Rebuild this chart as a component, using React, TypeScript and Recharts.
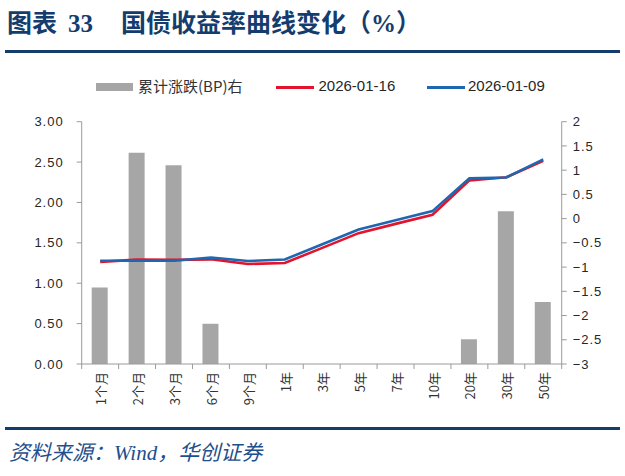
import React from 'react';
import { ComposedChart, Bar, Line, XAxis, YAxis } from 'recharts';

const categories = ['1个月', '2个月', '3个月', '6个月', '9个月', '1年', '3年', '5年', '7年', '10年', '20年', '30年', '50年'];
const yield20260116 = [1.264, 1.292, 1.289, 1.296, 1.238, 1.25, 1.435, 1.62, 1.735, 1.848, 2.273, 2.312, 2.516];
const yield20260109 = [1.278, 1.278, 1.278, 1.318, 1.275, 1.294, 1.48, 1.665, 1.78, 1.893, 2.298, 2.31, 2.533];
const bpChange = [-1.42, 1.36, 1.1, -2.17, -3.7, -4.4, -4.5, -4.5, -4.5, -4.5, -2.49, 0.15, -1.72];
const leftTicks = [0, 0.5, 1, 1.5, 2, 2.5, 3];
const rightTicks = [-3, -2.5, -2, -1.5, -1, -0.5, 0, 0.5, 1, 1.5, 2];
const RIGHT_MIN = -3;
const RIGHT_MAX = 2;

const legendLabels = ['累计涨跌(BP)右', '2026-01-16', '2026-01-09'];

const W = 625;
const H = 476;
const M = { top: 121.7, right: 13.3, bottom: 52, left: 21.7 };
const YL_W = 60;
const YR_W = 50;
const XA_H = 60;
const PLOT_W = W - M.left - M.right - YL_W - YR_W;
const BAND = PLOT_W / categories.length;

const data = categories.map((c, i) => ({
  name: c,
  y0116: yield20260116[i],
  y0109: yield20260109[i],
  bpRange: bpChange[i] > RIGHT_MIN ? [RIGHT_MIN, bpChange[i]] : null,
}));

const RED = '#E2142D';
const BLUE = '#1F67B1';
const GREY = '#A6A6A6';
const AXIS = '#9A9A9A';
const NAVY = '#143D6E';
const TICK_FONT = '"Liberation Sans", Arial, sans-serif';
const CJK_SANS = '"Noto Sans CJK SC", "Liberation Sans", sans-serif';
const TITLE_FONT = '"Liberation Serif", "Noto Sans CJK SC", serif';

const XTick = (props: any) => {
  const { x, y, payload, index } = props;
  const isLast = index === categories.length - 1;
  return (
    <g>
      <line x1={x - BAND / 2} x2={x - BAND / 2} y1={y} y2={y + 5} stroke={AXIS} strokeWidth={1} />
      {isLast && <line x1={x + BAND / 2} x2={x + BAND / 2} y1={y} y2={y + 5} stroke={AXIS} strokeWidth={1} />}
      <text
        transform={`translate(${x + 1.5},${y + 8}) rotate(-90)`}
        textAnchor="end"
        dy="0.35em"
        fontSize={13}
        fill="#333"
        fontFamily={CJK_SANS}
      >
        {payload.value}
      </text>
    </g>
  );
};

const fmtRight = (v: number) => String(v).replace('-', '−');

const titleStyle: React.CSSProperties = {
  position: 'absolute',
  top: 10,
  fontSize: 25,
  lineHeight: '28px',
  fontWeight: 'bold',
  color: NAVY,
  fontFamily: TITLE_FONT,
  whiteSpace: 'nowrap',
};

export default function App() {
  return (
    <div style={{ position: 'absolute', left: 0, top: 0, width: W, height: H, background: '#fff', overflow: 'hidden' }}>
      <div style={{ ...titleStyle, left: 7 }}>图表</div>
      <div style={{ ...titleStyle, left: 68 }}>33</div>
      <div style={{ ...titleStyle, left: 121 }}>国债收益率曲线变化（%）</div>
      <div style={{ position: 'absolute', left: 5, top: 50, width: 615, height: 3, background: NAVY }} />

      <div style={{ position: 'absolute', left: 0, top: 0 }}>
        <ComposedChart width={W} height={H} data={data} margin={M}>
          <XAxis
            dataKey="name"
            height={XA_H}
            interval={0}
            tickLine={false}
            tickSize={0}
            tickMargin={0}
            stroke={AXIS}
            tick={<XTick />}
          />
          <YAxis
            yAxisId="left"
            orientation="left"
            width={YL_W}
            domain={[0, 3]}
            ticks={leftTicks}
            interval={0}
            tickFormatter={(v: number) => v.toFixed(2)}
            tickSize={5}
            tickMargin={13}
            stroke={AXIS}
            tick={{ fill: '#262626', fontSize: 13, fontFamily: TICK_FONT, letterSpacing: 1 }}
          />
          <YAxis
            yAxisId="right"
            orientation="right"
            width={YR_W}
            domain={[RIGHT_MIN, RIGHT_MAX]}
            ticks={rightTicks}
            interval={0}
            tickFormatter={fmtRight}
            tickSize={5}
            tickMargin={6}
            stroke={AXIS}
            tick={{ fill: '#262626', fontSize: 13, fontFamily: TICK_FONT, letterSpacing: 1 }}
          />
          <Bar yAxisId="right" dataKey="bpRange" fill={GREY} barSize={16} isAnimationActive={false} />
          <Line yAxisId="left" type="linear" dataKey="y0116" stroke={RED} strokeWidth={2.6} dot={false} isAnimationActive={false} />
          <Line yAxisId="left" type="linear" dataKey="y0109" stroke={BLUE} strokeWidth={2.6} dot={false} isAnimationActive={false} />
        </ComposedChart>
      </div>

      {/* legend */}
      <div style={{ position: 'absolute', left: 96, top: 83, width: 37, height: 8, background: GREY }} />
      <div style={{ position: 'absolute', left: 138, top: 76, fontSize: 15, lineHeight: '20px', color: '#333', fontFamily: CJK_SANS, whiteSpace: 'nowrap' }}>
        {legendLabels[0]}
      </div>
      <div style={{ position: 'absolute', left: 276, top: 85.5, width: 38, height: 3, background: RED }} />
      <div style={{ position: 'absolute', left: 318.5, top: 76, fontSize: 15, lineHeight: '20px', color: '#262626', fontFamily: TICK_FONT, whiteSpace: 'nowrap' }}>
        {legendLabels[1]}
      </div>
      <div style={{ position: 'absolute', left: 427, top: 85.5, width: 38, height: 3, background: BLUE }} />
      <div style={{ position: 'absolute', left: 468, top: 76, fontSize: 15, lineHeight: '20px', color: '#262626', fontFamily: TICK_FONT, whiteSpace: 'nowrap' }}>
        {legendLabels[2]}
      </div>

      <div style={{ position: 'absolute', left: 5, top: 427, width: 615, height: 3, background: NAVY }} />
      <div
        style={{
          position: 'absolute',
          left: 9,
          top: 440,
          fontSize: 21,
          lineHeight: '26px',
          fontStyle: 'italic',
          color: '#1F4E8C',
          fontFamily: TITLE_FONT,
          whiteSpace: 'nowrap',
        }}
      >
        资料来源：Wind，华创证券
      </div>
    </div>
  );
}
